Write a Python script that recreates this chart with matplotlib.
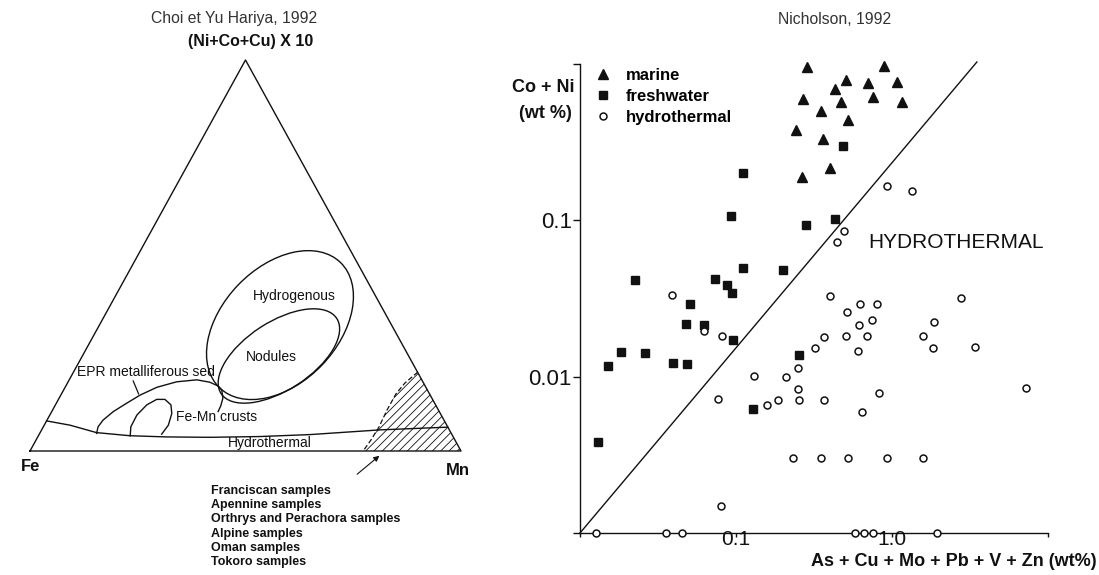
import numpy as np
import matplotlib.pyplot as plt
from matplotlib.patches import Ellipse, Polygon

plt.rcParams['font.family'] = ['Liberation Sans', 'DejaVu Sans']
plt.rcParams['hatch.linewidth'] = 0.6

# ---------- left panel: Fe - Mn - (Ni+Co+Cu)x10 ternary ----------
# outlines as (Mn %, (Ni+Co+Cu)x10 %), Fe is the rest
hydro_mn = [0.0, 6.0, 13.1, 21.3, 29.9, 40.0, 51.5, 62.9, 78.5, 93.9]
hydro_t = [7.7, 6.6, 4.7, 3.9, 3.6, 3.5, 3.7, 4.2, 5.4, 6.1]

epr_mn = [13.2, 12.7, 13.0, 14.3, 16.3, 18.4, 21.3, 25.2, 29.6, 32.9, 35.4, 36.7, 38.0, 38.5, 38.6]
epr_t = [4.5, 6.2, 7.9, 10.1, 12.2, 14.3, 16.3, 17.7, 18.2, 17.6, 16.6, 15.6, 13.5, 11.5, 10.1]

crust_mn = [21.3, 20.3, 20.2, 21.2, 22.8, 24.7, 26.8, 28.1, 28.8, 28.4]
crust_t = [3.9, 6.2, 9.2, 11.8, 13.2, 13.2, 11.8, 9.6, 6.6, 4.3]

# dashed limit of the hatched (ophiolite samples) field
ophio_mn = [79.9, 78.3, 77.6, 77.6, 77.9, 77.7, 77.3]
ophio_t = [20.2, 17.4, 14.6, 10.5, 6.1, 2.8, 0.0]

# elliptical fields: centre (Mn %, T %), length / width in % of side, tilt in deg
hydrogenous = dict(mn=41.9, t=32.2, length=40.4, width=26.9, tilt=46)
nodules = dict(mn=45.6, t=24.3, length=32.0, width=15.8, tilt=33)

samples = ["Franciscan samples", "Apennine samples", "Orthrys and Perachora samples",
           "Alpine samples", "Oman samples", "Tokoro samples"]

# ---------- right panel: Nicholson 1992 ----------
marine_x = [0.284, 0.888, 0.510, 0.703, 1.08, 0.431, 0.268, 0.474, 0.751, 1.16,
            0.353, 0.526, 0.243, 0.360, 0.398, 0.265]
marine_y = [0.957, 0.971, 0.787, 0.760, 0.771, 0.690, 0.601, 0.568, 0.619, 0.568,
            0.497, 0.438, 0.378, 0.330, 0.215, 0.190]

fresh_x = [0.111, 0.0924, 0.282, 0.0225, 0.0729, 0.0879, 0.0947, 0.111, 0.201, 0.485,
           0.429, 0.0505, 0.0478, 0.0622, 0.0961, 0.0183, 0.0261, 0.0152, 0.0392, 0.0488,
           0.252, 0.129, 0.0131]
fresh_y = [0.200, 0.106, 0.093, 0.0415, 0.0419, 0.0384, 0.0341, 0.0492, 0.0481, 0.301,
           0.1025, 0.0290, 0.0218, 0.0215, 0.0172, 0.0143, 0.0142, 0.01175, 0.0122, 0.0121,
           0.0138, 0.00622, 0.00384]

hyd_x = [0.924, 1.34, 0.490, 0.444, 0.398, 2.75, 0.0388, 0.0628, 0.0809, 0.323,
         0.249, 0.131, 0.209, 0.250, 0.0769, 0.157, 0.185, 0.252, 0.233, 0.080,
         0.628, 0.804, 0.515, 0.746, 0.612, 1.85, 0.368, 0.505, 0.687, 1.58,
         0.606, 1.83, 3.38, 7.21, 0.364, 0.824, 0.638, 0.352, 0.523, 0.924, 1.58,
         0.0127, 0.0355, 0.0450, 0.583, 0.660, 0.750, 1.94]
hyd_y = [0.165, 0.154, 0.0851, 0.0727, 0.0328, 0.0319, 0.0333, 0.0195, 0.0183, 0.0152,
         0.01135, 0.01004, 0.00996, 0.00836, 0.00721, 0.00656, 0.00711, 0.00706, 0.00303, 0.00149,
         0.0292, 0.0292, 0.0261, 0.0229, 0.0215, 0.0223, 0.0179, 0.0182, 0.0181, 0.0181,
         0.0147, 0.0152, 0.0155, 0.00851, 0.00706, 0.00787, 0.00598, 0.00303, 0.00303, 0.0030, 0.00303,
         0.001, 0.001, 0.001, 0.001, 0.001, 0.001, 0.001]

bound_x = [0.01, 3.5]
bound_y = [0.001, 1.03]

xticks = [0.01, 0.1, 1, 10]
xticklabels = ['', '0.1', '1.0', '']
yticks = [0.001, 0.01, 0.1, 1]
yticklabels = ['', '0.01', '0.1', '']

ink = '#111111'

fig = plt.figure(figsize=(10.99, 5.75), dpi=100)

# ======================= left panel =======================
H = 391 / 431  # height of the drawn triangle relative to its base


def to_xy(mn, t):
    mn = np.asarray(mn, dtype=float)
    t = np.asarray(t, dtype=float)
    return mn + t / 2, t * H


axl = fig.add_axes([0, 0, 540 / 1099, 1])
axl.set_xlim(-6.96, 118.33)
axl.set_ylim(-28.77, 104.64)
axl.axis('off')

tx, ty = to_xy([0, 100, 0, 0], [0, 0, 100, 0])
axl.plot(tx, ty, color=ink, lw=1.0)

x, y = to_xy(hydro_mn, hydro_t)
axl.plot(x, y, color=ink, lw=1.0)
x, y = to_xy(epr_mn, epr_t)
axl.plot(x, y, color=ink, lw=1.0)
x, y = to_xy(crust_mn, crust_t)
axl.plot(x, y, color=ink, lw=1.0)

for f in [hydrogenous, nodules]:
    c = to_xy(f['mn'], f['t'])
    axl.add_patch(Ellipse((float(c[0]), float(c[1])), f['length'], f['width'],
                          angle=f['tilt'], fill=False, ec=ink, lw=1.0))

ox, oy = to_xy(ophio_mn + [100], ophio_t + [0])
axl.add_patch(Polygon(np.column_stack([ox, oy]), closed=True, facecolor='none',
                      edgecolor=ink, lw=0, hatch='////'))
x, y = to_xy(ophio_mn, ophio_t)
axl.plot(x, y, color=ink, lw=0.9, ls=(0, (4, 2)))

# EPR label leader
lx, ly = to_xy([15.0, 17.9], [17.9, 14.6])
axl.plot(lx, ly, color=ink, lw=0.9)

lab = dict(color=ink, fontsize=10, ha='center', va='center')
for txt, mn, t in [("Hydrogenous", 41.6, 39.6), ("Nodules", 43.9, 24.0),
                   ("EPR metalliferous sed", 16.7, 20.3), ("Fe-Mn crusts", 38.9, 8.7),
                   ("Hydrothermal", 54.7, 2.0)]:
    px, py = to_xy(mn, t)
    axl.text(px, py, txt, **lab)

axl.text(51.3, 94.9, "(Ni+Co+Cu) X 10", color=ink, fontsize=11.5, fontweight='bold',
         ha='center', va='center')
axl.text(0.1, -3.7, "Fe", color=ink, fontsize=12, fontweight='bold', ha='center', va='center')
axl.text(99.3, -4.6, "Mn", color=ink, fontsize=12, fontweight='bold', ha='center', va='center')

axl.annotate('', xy=(81.55, -0.7), xytext=(75.4, -5.8),
             arrowprops=dict(arrowstyle='-|>', lw=0.8, color=ink, mutation_scale=8))
for i, s in enumerate(samples):
    axl.text(42.0, -9.23 - 3.32 * i, s, color=ink, fontsize=9, fontweight='bold',
             ha='left', va='center')

fig.text(234 / 1099, 1 - 18 / 575, "Choi et Yu Hariya, 1992", fontsize=11.3,
         color='#333333', ha='center', va='center')

# ======================= right panel =======================
ax = fig.add_axes([580 / 1099, 42 / 575, 468 / 1099, 469 / 575])
ax.set_xscale('log')
ax.set_yscale('log')
ax.set_xlim(0.01, 10)
ax.set_ylim(0.001, 1)
ax.minorticks_off()

ax.plot(bound_x, bound_y, color=ink, lw=1.0, clip_on=False)
ax.plot(marine_x, marine_y, ls='none', marker='^', color=ink, ms=7.4,
        label='marine', clip_on=False)
ax.plot(fresh_x, fresh_y, ls='none', marker='s', color=ink, ms=5.3,
        label='freshwater', clip_on=False)
ax.plot(hyd_x, hyd_y, ls='none', marker='o', mfc='white', mec=ink, mew=1.1, ms=5.0,
        label='hydrothermal', clip_on=False, zorder=3)

for s in ['top', 'right']:
    ax.spines[s].set_visible(False)
for s in ['left', 'bottom']:
    ax.spines[s].set_linewidth(1.0)
    ax.spines[s].set_color(ink)

ax.set_xticks(xticks)
ax.set_xticklabels(xticklabels)
ax.set_yticks(yticks)
ax.set_yticklabels(yticklabels)
ax.tick_params(axis='y', direction='out', length=5, width=1, pad=1, labelsize=16,
               colors=ink)
ax.tick_params(axis='x', direction='out', length=3, width=1, pad=-5.5, labelsize=15,
               colors=ink)

ax.text(0.70, 0.0724, "HYDROTHERMAL", fontsize=15, color=ink, ha='left', va='center')

ax.legend(loc='upper left', bbox_to_anchor=(595 / 1099, 1 - 68 / 575),
          bbox_transform=fig.transFigure, frameon=False, borderpad=0, borderaxespad=0,
          handlelength=1.0, handletextpad=0.86, labelspacing=0.36,
          prop={'weight': 'bold', 'size': 12})

fig.text(575 / 1099, 1 - 87 / 575, "Co + Ni", fontsize=13, fontweight='bold', color=ink,
         ha='right', va='center')
fig.text(572 / 1099, 1 - 113 / 575, "(wt %)", fontsize=13, fontweight='bold', color=ink,
         ha='right', va='center')
fig.text(0.998, 1 - 561 / 575, "As + Cu + Mo + Pb + V + Zn (wt%)", fontsize=13,
         fontweight='bold', color=ink, ha='right', va='center')

fig.text(835 / 1099, 1 - 20 / 575, "Nicholson, 1992", fontsize=11.3, color='#333333',
         ha='center', va='center')

fig.savefig('out.png', dpi=100)
